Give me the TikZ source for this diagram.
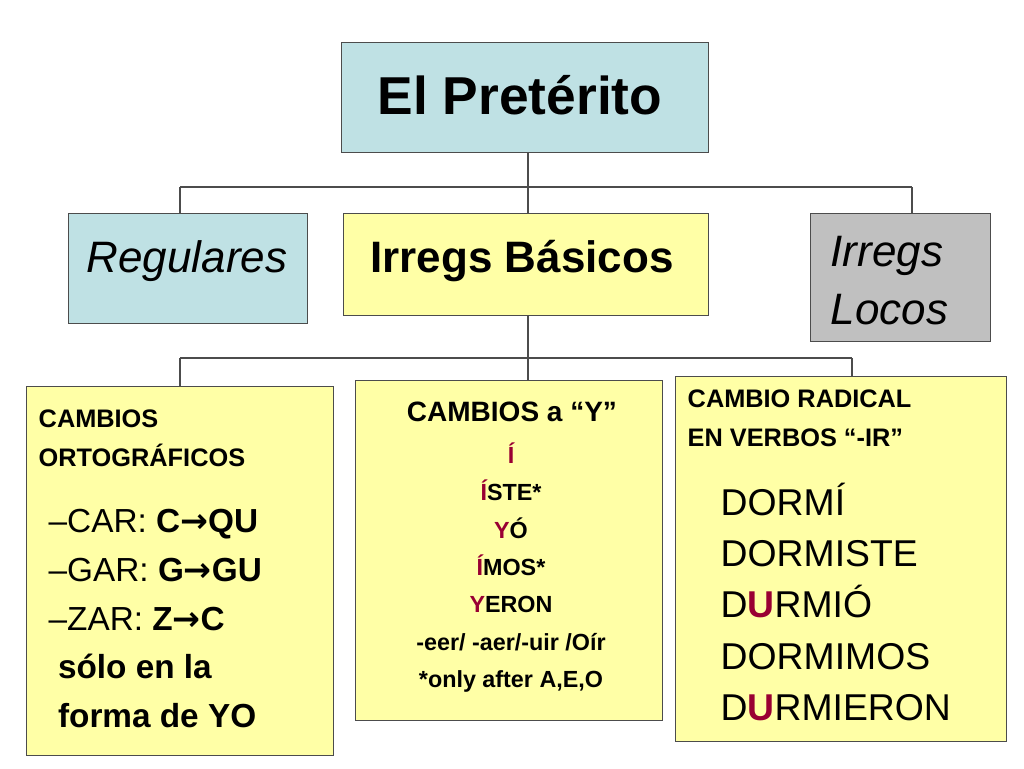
\documentclass[tikz,border=0pt]{standalone}
\usepackage{fontspec}
\setmainfont{Liberation Sans}
\newfontfamily\djfont{DejaVu Sans}
\definecolor{lblue}{HTML}{BFE1E4}
\definecolor{lyel}{HTML}{FFFFA6}
\definecolor{lgray}{HTML}{C0C0C0}
\definecolor{dred}{HTML}{990033}
\newcommand{\arr}{{\djfont\bfseries →}}
\begin{document}
\begin{tikzpicture}[x=0.75pt,y=-0.75pt,
  box/.style={draw=black!70,line width=0.8pt,inner sep=0pt},
  con/.style={draw=black!70,line width=0.8pt}]
\useasboundingbox (0,0) rectangle (1024,768);
% boxes
\node[box,fill=lblue,minimum width=367*0.75pt,minimum height=110*0.75pt,anchor=north west] (top) at (341,42) {};
\node (tt) at (520,95) {\fontsize{40}{44}\selectfont\bfseries El Pretérito};
\node[box,fill=lblue,minimum width=239*0.75pt,minimum height=110*0.75pt,anchor=north west] (reg) at (68,213) {};
\node (rt) at (187,261) {\fontsize{33}{36}\selectfont\itshape Regulares};
\node[box,fill=lyel,minimum width=365*0.75pt,minimum height=102*0.75pt,anchor=north west] (irr) at (343,213) {};
\node (it) at (522,261) {\fontsize{33}{36}\selectfont\bfseries Irregs Básicos};
\node[box,fill=lgray,minimum width=180*0.75pt,minimum height=128*0.75pt,anchor=north west] (loc) at (810,213) {};
\node[anchor=north west,align=left,font=\fontsize{33}{43}\selectfont\itshape] (lt) at (826,232) {Irregs\\Locos};
\node[box,fill=lyel,minimum width=307*0.75pt,minimum height=369*0.75pt,anchor=north west] (b1) at (26,386) {};
\node[box,fill=lyel,minimum width=307*0.75pt,minimum height=340*0.75pt,anchor=north west] (b2) at (355,380) {};
\node[box,fill=lyel,minimum width=331*0.75pt,minimum height=365*0.75pt,anchor=north west] (b3) at (675,376) {};
% connectors
\coordinate (j1) at (528,187);
\coordinate (j2) at (528,358);
\draw[con] (top.south -| j1) -- (j1);
\draw[con] (180,187) -- (912,187);
\draw[con] (reg.north -| 180,0) -- (180,187);
\draw[con] (irr.north -| j1) -- (j1);
\draw[con] (loc.north -| 912,0) -- (912,187);
\draw[con] (irr.south -| j2) -- (j2);
\draw[con] (180,358) -- (852,358);
\draw[con] (b1.north -| 180,0) -- (180,358);
\draw[con] (b2.north -| j2) -- (j2);
\draw[con] (b3.north -| 852,0) -- (852,358);
% box1 text
\node[anchor=north west,align=left,font=\fontsize{19}{29}\selectfont\bfseries] (t1) at (34,405) {CAMBIOS\\ORTOGRÁFICOS};
\node[anchor=north west,align=left,font=\fontsize{25}{36.5}\selectfont] (t1b) at (44,505) {%
–CAR: \textbf{C\arr QU}\\–GAR: \textbf{G\arr GU}\\–ZAR: \textbf{Z\arr C}\\\hspace*{7pt}\textbf{sólo en la}\\\hspace*{7pt}\textbf{forma de YO}};
% box2 text
\node (t2) at (512,412) {\fontsize{21}{24}\selectfont\bfseries CAMBIOS a “Y”};
\node[anchor=north,align=center,font=\fontsize{17.5}{28}\selectfont\bfseries] (t2b) at (511,438) {%
\textcolor{dred}{Í}\\\textcolor{dred}{Í}STE*\\\textcolor{dred}{Y}Ó\\\textcolor{dred}{Í}MOS*\\\textcolor{dred}{Y}ERON\\-eer/ -aer/-uir /Oír\\*only after A,E,O};
% box3 text
\node[anchor=north west,align=left,font=\fontsize{19}{29}\selectfont\bfseries] (t3) at (683,385) {CAMBIO RADICAL\\EN VERBOS “-IR”};
\node[anchor=north west,align=left,font=\fontsize{28}{38.5}\selectfont] (t3b) at (716,478) {%
DORMÍ\\DORMISTE\\D\textcolor{dred}{\bfseries U}RMIÓ\\DORMIMOS\\D\textcolor{dred}{\bfseries U}RMIERON};
\end{tikzpicture}
\end{document}
